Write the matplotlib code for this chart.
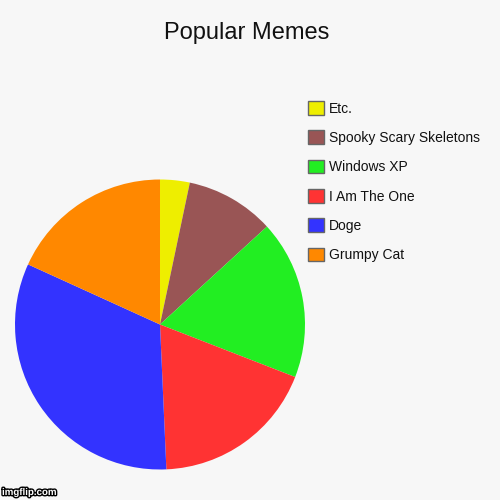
import matplotlib.pyplot as plt
import matplotlib.patheffects as pe

plt.rcParams['font.family'] = ['Liberation Sans', 'DejaVu Sans']

labels = ["Etc.", "Spooky Scary Skeletons", "Windows XP", "I Am The One", "Doge", "Grumpy Cat"]
values = [3.3, 9.9, 17.7, 18.4, 32.5, 18.2]
colors = ["#eeee00", "#995555", "#22ee22", "#ff3333", "#3333ff", "#ff8800"]
title = "Popular Memes"


def main():
    bg = "#f7f7f7"
    fig = plt.figure(figsize=(5, 5), dpi=100, facecolor=bg)
    ax = fig.add_axes([15 / 500, 30.5 / 500, 290 / 500, 290 / 500])
    ax.set_facecolor(bg)
    wedges, _ = ax.pie(values, colors=colors, startangle=90, counterclock=False,
                       radius=1, wedgeprops=dict(linewidth=0))
    ax.set_xlim(-1, 1)
    ax.set_ylim(-1, 1)
    ax.set_aspect("equal")

    fig.text(246.5 / 500, 1 - 39 / 500, title, ha="center", va="baseline",
             fontsize=17, color="#111111")

    for w in wedges:
        w.set_edgecolor("none")
    handles = [plt.Rectangle((0, 0), 1, 1, facecolor=c, edgecolor="#666666", linewidth=1)
               for c in colors]
    fig.legend(handles, labels, loc="upper left",
               bbox_to_anchor=(308 / 500, 1 - 101 / 500), frameon=False,
               fontsize=10, handlelength=1.15, handleheight=1.15,
               handletextpad=0.35, labelspacing=1.06, borderpad=0,
               borderaxespad=0, labelcolor="#111111")

    fig.text(2 / 500, 1 - 495 / 500, "imgflip.com", fontsize=7, fontweight="bold",
             color="white", va="baseline",
             path_effects=[pe.withStroke(linewidth=2, foreground="black")])

    fig.savefig("out.png", dpi=100, facecolor=bg)


if __name__ == "__main__":
    main()
